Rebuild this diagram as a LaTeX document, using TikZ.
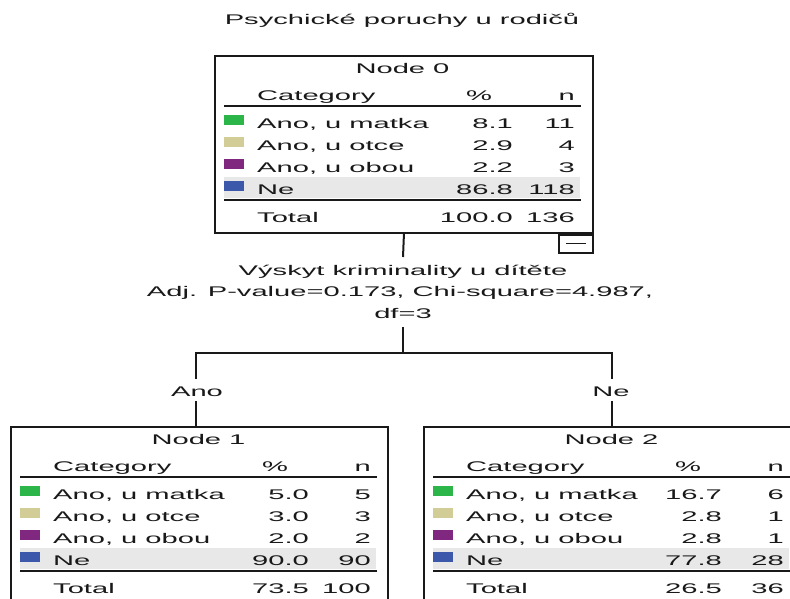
\documentclass[tikz,border=0pt]{standalone}
\usepackage{fontspec}
\setmainfont{Liberation Sans}[FakeStretch=2.08]
\definecolor{cgreen}{RGB}{44,182,74}
\definecolor{cbeige}{RGB}{210,204,150}
\definecolor{cpurple}{RGB}{128,40,128}
\definecolor{cblue}{RGB}{60,88,170}
\definecolor{bandgray}{RGB}{232,232,232}
\definecolor{ink}{RGB}{25,25,25}
\tikzset{
  txt/.style={inner sep=0pt, font=\fontsize{14}{16}\selectfont, text=ink},
  boxnode/.style={draw=ink, line width=1.9pt, rectangle, minimum height=177pt, inner sep=0pt, anchor=north west},
  conn/.style={draw=ink, line width=2pt},
  rulel/.style={draw=ink, line width=1.3pt},
}
\newcommand\crow[6]{% #1 name, #2 baseline, #3 colour, #4 label, #5 pct, #6 n
  \fill[#3] (10,#2-13) rectangle (30,#2-3);
  \node[txt,anchor=base west] (#1l) at (43,#2) {#4};
  \node[txt,anchor=base east] (#1p) at (299,#2) {#5};
  \node[txt,anchor=base east] (#1n) at (361,#2) {#6};
}
\newcommand\ctable[5]{% #1 prefix, #2 title, #3 rows, #4 total pct, #5 total n
  \node[txt,anchor=base] (#1t) at (188.5,18) {#2};
  \node[txt,anchor=base west] (#1c) at (43,45) {Category};
  \node[txt,anchor=base] (#1h) at (265,45) {\%};
  \node[txt,anchor=base east] (#1hn) at (361,45) {n};
  \draw[rulel] (10,51) -- (367,51);
  \fill[bandgray] (10,122) rectangle (366,143);
  #3
  \draw[rulel] (10,145) -- (367,145);
  \node[txt,anchor=base west] (#1tl) at (43,167) {Total};
  \node[txt,anchor=base east] (#1tp) at (299,167) {#4};
  \node[txt,anchor=base east] (#1tn) at (361,167) {#5};
}
\begin{document}
\begin{tikzpicture}[x=1pt,y=-1pt]
\useasboundingbox (0,0) rectangle (790,598);
\clip (0,0) rectangle (790,598);
\fill[white] (0,0) rectangle (790,598);

% title
\node[txt,anchor=base] (title) at (402,24) {Psychické poruchy u rodičů};

% boxes
\node[boxnode, minimum width=378pt] (n0) at (214,55) {};
\node[boxnode, minimum width=377pt] (n1) at (10,426) {};
\node[boxnode, minimum width=377pt] (n2) at (423,426) {};

% minus box
\node[draw=ink, line width=1.6pt, rectangle, minimum width=34pt, minimum height=18pt, inner sep=0pt, anchor=north east] (mbox) at (n0.south east) {};
\draw[ink, line width=1.3pt] ([xshift=-10pt]mbox.center) -- ([xshift=10pt]mbox.center);

% node 0 table
\begin{scope}[shift={(n0.north west)}]
\ctable{a}{Node 0}{%
  \crow{a1}{73}{cgreen}{Ano, u matka}{8.1}{11}
  \crow{a2}{95}{cbeige}{Ano, u otce}{2.9}{4}
  \crow{a3}{117}{cpurple}{Ano, u obou}{2.2}{3}
  \crow{a4}{139}{cblue}{Ne}{86.8}{118}
}{100.0}{136}
\end{scope}

% node 1 table
\begin{scope}[shift={(n1.north west)}]
\ctable{b}{Node 1}{%
  \crow{b1}{73}{cgreen}{Ano, u matka}{5.0}{5}
  \crow{b2}{95}{cbeige}{Ano, u otce}{3.0}{3}
  \crow{b3}{117}{cpurple}{Ano, u obou}{2.0}{2}
  \crow{b4}{139}{cblue}{Ne}{90.0}{90}
}{73.5}{100}
\end{scope}

% node 2 table
\begin{scope}[shift={(n2.north west)}]
\ctable{c}{Node 2}{%
  \crow{c1}{73}{cgreen}{Ano, u matka}{16.7}{6}
  \crow{c2}{95}{cbeige}{Ano, u otce}{2.8}{1}
  \crow{c3}{117}{cpurple}{Ano, u obou}{2.8}{1}
  \crow{c4}{139}{cblue}{Ne}{77.8}{28}
}{26.5}{36}
\end{scope}

% split label
\node[txt,anchor=base] (s1) at (403,275) {Výskyt kriminality u dítěte};
\node[txt,anchor=base] (s2) at (400,296) {Adj. P-value=0.173, Chi-square=4.987,};
\node[txt,anchor=base] (s3) at (403,318) {df=3};

% connectors
\coordinate (c0) at (403,257);
\coordinate (c1) at (403,327);
\coordinate (j) at (403,353);
\coordinate (a1) at (196,379);
\coordinate (a2) at (196,401);
\coordinate (b1) at (612,379);
\coordinate (b2) at (612,401);
\draw[conn] (n0.south) -- (c0);
\draw[conn] (c1) -- (j);
\draw[conn] (a1) |- (j) -| (b1);
\draw[conn] (a2) -- (a2 |- n1.north);
\draw[conn] (b2) -- (b2 |- n2.north);

% edge labels
\node[txt,anchor=base] (lano) at (197,396) {Ano};
\node[txt,anchor=base] (lne) at (611,396) {Ne};
\end{tikzpicture}
\end{document}
